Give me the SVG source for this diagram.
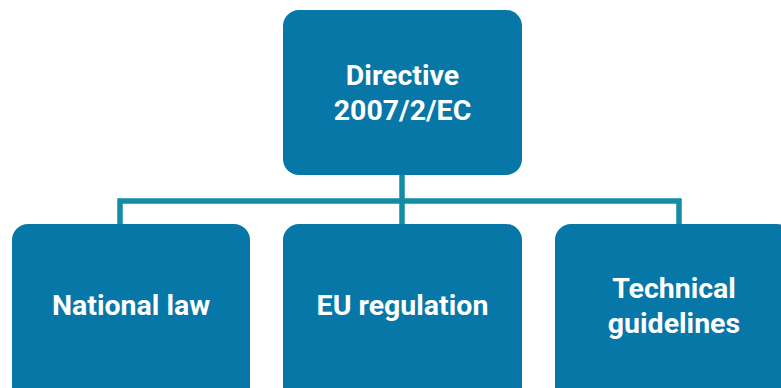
<svg xmlns="http://www.w3.org/2000/svg" width="781" height="388" viewBox="0 0 781 388">
<style>
.box{fill:#0677a6;}
.lbl{fill:#ffffff;font-family:Roboto,"Liberation Sans",sans-serif;font-weight:bold;font-size:28.5px;text-anchor:middle;}
.conn{fill:none;stroke:#138da1;stroke-width:5.5;}
</style>
<rect width="781" height="388" fill="#ffffff"/>
<g id="connectors">
<path class="conn" d="M402,175 V224"/>
<path class="conn" d="M120,224 V201 H679 V224"/>
</g>
<g id="directive">
<rect class="box" x="283" y="10" width="239" height="165" rx="16"/>
<text class="lbl" x="402.5" y="85">Directive</text>
<text class="lbl" x="402.5" y="120">2007/2/EC</text>
</g>
<g id="national-law">
<rect class="box" x="12" y="224" width="238" height="180" rx="16"/>
<text class="lbl" x="131" y="315">National law</text>
</g>
<g id="eu-regulation">
<rect class="box" x="283" y="224" width="239" height="180" rx="16"/>
<text class="lbl" x="402.5" y="315">EU regulation</text>
</g>
<g id="technical-guidelines">
<rect class="box" x="555" y="224" width="238" height="180" rx="16"/>
<text class="lbl" x="674" y="298">Technical</text>
<text class="lbl" x="674" y="333">guidelines</text>
</g>
</svg>
